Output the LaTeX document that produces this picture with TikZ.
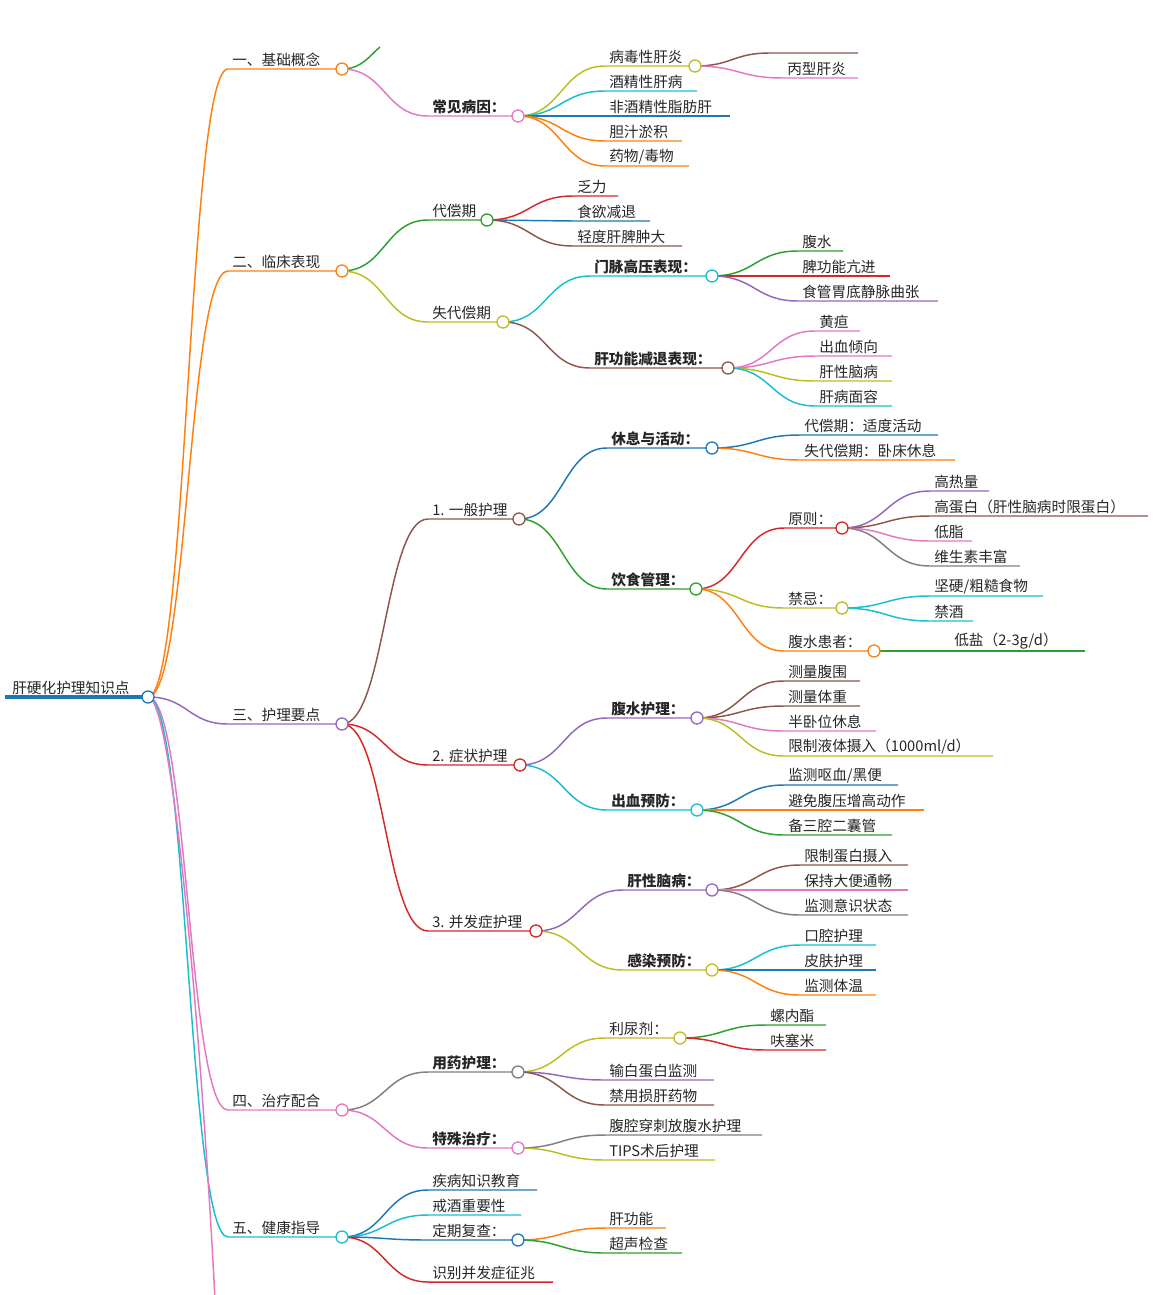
\documentclass[tikz,border=0pt]{standalone}
\usepackage{fontspec}
\setmainfont{Noto Sans CJK SC}
\usetikzlibrary{calc}
\definecolor{cO}{HTML}{FF7F0E}\definecolor{cG}{HTML}{2CA02C}\definecolor{cR}{HTML}{D62728}
\definecolor{cP}{HTML}{9467BD}\definecolor{cB}{HTML}{8C564B}\definecolor{cK}{HTML}{E377C2}
\definecolor{cY}{HTML}{7F7F7F}\definecolor{cL}{HTML}{BCBD22}\definecolor{cC}{HTML}{17BECF}
\definecolor{cU}{HTML}{1F77B4}
\pgfdeclarelayer{fg}\pgfsetlayers{main,fg}
\tikzset{edge/.style={line width=1.1pt},
 lbl/.style={anchor=south west,inner sep=1.5pt,font=\fontsize{11}{13}\selectfont,text=black!85},
 knob/.style={circle,draw=#1,fill=white,line width=1pt,inner sep=0pt,minimum size=9pt}}
% name parent color x0 x1 y text
\newcommand\mm[7]{%
 \coordinate (#1s) at (#4,#6); \coordinate (#1) at (#5,#6);
 \draw[#3,edge] let \p1=(#2), \p2=(#1s), \n1={(\x2-\x1)/2} in (\p1) .. controls +(\n1,0) and +(-\n1,0) .. (\p2) -- (#1);
 \node[lbl] (#1t) at ($(#1s)+(2,0)$) {#7};}
\newcommand\kn[2]{\begin{pgfonlayer}{fg}\node[knob=#2] at (#1) {};\end{pgfonlayer}}
\begin{document}
\begin{tikzpicture}[x=0.75pt,y=-0.75pt]
\useasboundingbox (0,0) rectangle (1154,1295);
\clip (0,0) rectangle (1154,1295);
\coordinate (R) at (148,697); \coordinate (Rs) at (5,697);
\draw[cU,line width=2.3pt] (Rs) -- (R);
\node[lbl] (Rt) at (10,697) {肝硬化护理知识点};
\kn{R}{cU}
% level 1
\mm{A}{R}{cO}{228}{342}{69}{一、基础概念}\kn{A}{cO}
\mm{B}{R}{cO}{228}{342}{271}{二、临床表现}\kn{B}{cO}
\mm{C}{R}{cP}{228}{342}{724}{三、护理要点}\kn{C}{cP}
\mm{D}{R}{cK}{228}{342}{1110}{四、治疗配合}\kn{D}{cK}
\mm{E}{R}{cC}{228}{342}{1237}{五、健康指导}\kn{E}{cC}
\coordinate (Xs) at (215,1300);
\draw[cK,edge] (R) .. controls (175,697) and (205,1100) .. (Xs);
% A
\coordinate (Ag) at (380,47);
\draw[cG,edge] (A) .. controls (362,69) and (370,55) .. (Ag);
\mm{A1}{A}{cK}{428}{518}{116}{\bfseries 常见病因：}\kn{A1}{cK}
\mm{A11}{A1}{cL}{605}{695}{66}{病毒性肝炎}\kn{A11}{cL}
\mm{A12}{A1}{cC}{605}{697}{91}{酒精性肝病}
\mm{A13}{A1}{cU}{605}{730}{116}{非酒精性脂肪肝}
\mm{A14}{A1}{cO}{605}{682}{141}{胆汁淤积}
\mm{A15}{A1}{cO}{605}{689}{166}{药物/毒物}
\mm{A111}{A11}{cB}{770}{858}{53}{}
\mm{A112}{A11}{cK}{783}{858}{78}{丙型肝炎}
% B
\mm{B1}{B}{cG}{428}{487}{220}{代偿期}\kn{B1}{cG}
\mm{B11}{B1}{cR}{573}{618}{196}{乏力}
\mm{B12}{B1}{cU}{573}{650}{221}{食欲减退}
\mm{B13}{B1}{cB}{573}{682}{246}{轻度肝脾肿大}
\mm{B2}{B}{cL}{428}{503}{322}{失代偿期}\kn{B2}{cL}
\mm{B21}{B2}{cC}{590}{712}{276}{\bfseries 门脉高压表现：}\kn{B21}{cC}
\mm{B211}{B21}{cG}{798}{843}{251}{腹水}
\mm{B212}{B21}{cR}{798}{890}{276}{脾功能亢进}
\mm{B213}{B21}{cP}{798}{938}{301}{食管胃底静脉曲张}
\mm{B22}{B2}{cB}{590}{728}{368}{\bfseries 肝功能减退表现：}\kn{B22}{cB}
\mm{B221}{B22}{cK}{815}{860}{331}{黄疸}
\mm{B222}{B22}{cK}{815}{892}{356}{出血倾向}
\mm{B223}{B22}{cL}{815}{892}{381}{肝性脑病}
\mm{B224}{B22}{cC}{815}{892}{406}{肝病面容}
% C
\mm{C1}{C}{cB}{428}{519}{519}{1. 一般护理}\kn{C1}{cB}
\mm{C11}{C1}{cU}{607}{712}{448}{\bfseries 休息与活动：}\kn{C11}{cU}
\mm{C111}{C11}{cU}{800}{938}{435}{代偿期：适度活动}
\mm{C112}{C11}{cO}{800}{955}{460}{失代偿期：卧床休息}
\mm{C12}{C1}{cG}{607}{696}{589}{\bfseries 饮食管理：}\kn{C12}{cG}
\mm{C121}{C12}{cR}{784}{842}{528}{原则：}\kn{C121}{cR}
\mm{C1211}{C121}{cP}{930}{989}{491}{高热量}
\mm{C1212}{C121}{cB}{930}{1148}{516}{高蛋白（肝性脑病时限蛋白）}
\mm{C1213}{C121}{cK}{930}{972}{541}{低脂}
\mm{C1214}{C121}{cY}{930}{1020}{566}{维生素丰富}
\mm{C122}{C12}{cL}{784}{842}{608}{禁忌：}\kn{C122}{cL}
\mm{C1221}{C122}{cC}{930}{1043}{596}{坚硬/粗糙食物}
\mm{C1222}{C122}{cC}{930}{973}{621}{禁酒}
\mm{C123}{C12}{cO}{784}{874}{651}{腹水患者：}\kn{C123}{cO}
\mm{C1231}{C123}{cG}{950}{1085}{651}{低盐（2-3g/d）}
\mm{C2}{C}{cR}{428}{520}{765}{2. 症状护理}\kn{C2}{cR}
\mm{C21}{C2}{cP}{607}{697}{718}{\bfseries 腹水护理：}\kn{C21}{cP}
\mm{C211}{C21}{cB}{784}{860}{681}{测量腹围}
\mm{C212}{C21}{cB}{784}{860}{706}{测量体重}
\mm{C213}{C21}{cK}{784}{876}{731}{半卧位休息}
\mm{C214}{C21}{cL}{784}{993}{756}{限制液体摄入（1000ml/d）}
\mm{C22}{C2}{cC}{607}{697}{810}{\bfseries 出血预防：}\kn{C22}{cC}
\mm{C221}{C22}{cU}{784}{898}{785}{监测呕血/黑便}
\mm{C222}{C22}{cO}{784}{924}{810}{避免腹压增高动作}
\mm{C223}{C22}{cG}{784}{892}{835}{备三腔二囊管}
\mm{C3}{C}{cR}{428}{536}{931}{3. 并发症护理}\kn{C3}{cR}
\mm{C31}{C3}{cP}{623}{712}{890}{\bfseries 肝性脑病：}\kn{C31}{cP}
\mm{C311}{C31}{cB}{800}{908}{865}{限制蛋白摄入}
\mm{C312}{C31}{cK}{800}{908}{890}{保持大便通畅}
\mm{C313}{C31}{cY}{800}{908}{915}{监测意识状态}
\mm{C32}{C3}{cL}{623}{712}{970}{\bfseries 感染预防：}\kn{C32}{cL}
\mm{C321}{C32}{cC}{800}{876}{945}{口腔护理}
\mm{C322}{C32}{cU}{800}{876}{970}{皮肤护理}
\mm{C323}{C32}{cO}{800}{876}{995}{监测体温}
% D
\mm{D1}{D}{cY}{428}{518}{1072}{\bfseries 用药护理：}\kn{D1}{cY}
\mm{D11}{D1}{cL}{605}{680}{1038}{利尿剂：}\kn{D11}{cL}
\mm{D111}{D11}{cG}{766}{826}{1025}{螺内酯}
\mm{D112}{D11}{cR}{766}{826}{1050}{呋塞米}
\mm{D12}{D1}{cP}{605}{714}{1080}{输白蛋白监测}
\mm{D13}{D1}{cB}{605}{714}{1105}{禁用损肝药物}
\mm{D2}{D}{cK}{428}{518}{1148}{\bfseries 特殊治疗：}\kn{D2}{cK}
\mm{D21}{D2}{cY}{605}{762}{1135}{腹腔穿刺放腹水护理}
\mm{D22}{D2}{cL}{605}{715}{1160}{TIPS术后护理}
% E
\mm{E1}{E}{cU}{428}{537}{1190}{疾病知识教育}
\mm{E2}{E}{cC}{428}{521}{1215}{戒酒重要性}
\mm{E3}{E}{cU}{428}{518}{1240}{定期复查：}\kn{E3}{cU}
\mm{E31}{E3}{cO}{605}{666}{1228}{肝功能}
\mm{E32}{E3}{cG}{605}{682}{1253}{超声检查}
\mm{E4}{E}{cR}{428}{553}{1282}{识别并发症征兆}
\end{tikzpicture}
\end{document}
